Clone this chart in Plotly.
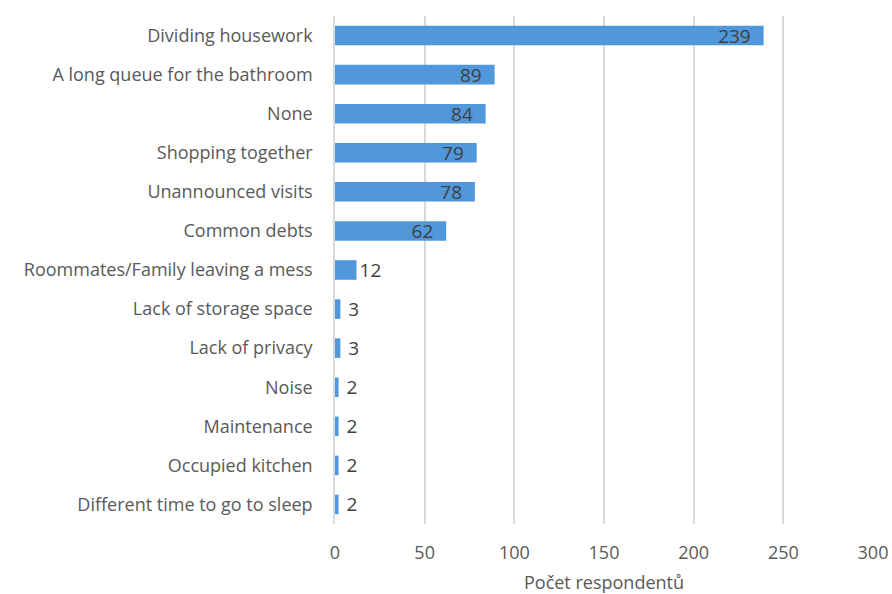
import plotly.graph_objects as go

categories = [
    "Dividing housework",
    "A long queue for the bathroom",
    "None",
    "Shopping together",
    "Unannounced visits",
    "Common debts",
    "Roommates/Family leaving a mess",
    "Lack of storage space",
    "Lack of privacy",
    "Noise",
    "Maintenance",
    "Occupied kitchen",
    "Different time to go to sleep",
]
values = [239, 89, 84, 79, 78, 62, 12, 3, 3, 2, 2, 2, 2]
x_ticks = [0, 50, 100, 150, 200, 250, 300]
x_title = "Počet respondentů"

FONT = "Open Sans"
positions = ["inside" if v >= 30 else "outside" for v in values]
labels = [f"{v}  " if v >= 30 else (f"{v}" if v >= 10 else f" {v}") for v in values]

fig = go.Figure()
fig.add_trace(go.Bar(
    y=categories,
    x=values,
    orientation="h",
    marker=dict(color="#5097DB", line=dict(width=0)),
    text=labels,
    textposition=positions,
    insidetextanchor="end",
    textangle=0,
    constraintext="none",
    insidetextfont=dict(family=FONT, size=19, color="#404040"),
    outsidetextfont=dict(family=FONT, size=19, color="#404040"),
    cliponaxis=False,
    width=0.5,
    hoverinfo="x+y",
))

fig.update_layout(
    width=892, height=594,
    margin=dict(l=335, r=19, t=16, b=70, autoexpand=False),
    plot_bgcolor="white",
    paper_bgcolor="white",
    showlegend=False,
    font=dict(family=FONT, size=18, color="#595959"),
    xaxis=dict(
        range=[0, 300],
        tickvals=x_ticks,
        showgrid=True,
        gridcolor="#D9D9D9",
        gridwidth=1.5,
        zeroline=False,
        showline=False,
        ticks="",
        automargin=False,
        ticklabelstandoff=16,
        tickfont=dict(family=FONT, size=18, color="#595959"),
        title=dict(text=x_title, font=dict(family=FONT, size=18, color="#595959"), standoff=14),
    ),
    yaxis=dict(
        autorange="reversed",
        showgrid=False,
        zeroline=False,
        showline=True,
        linecolor="#D9D9D9",
        linewidth=1.5,
        ticks="",
        automargin=False,
        ticklabelstandoff=17,
        tickfont=dict(family=FONT, size=18, color="#595959"),
    ),
)

fig.write_html("out.html")
